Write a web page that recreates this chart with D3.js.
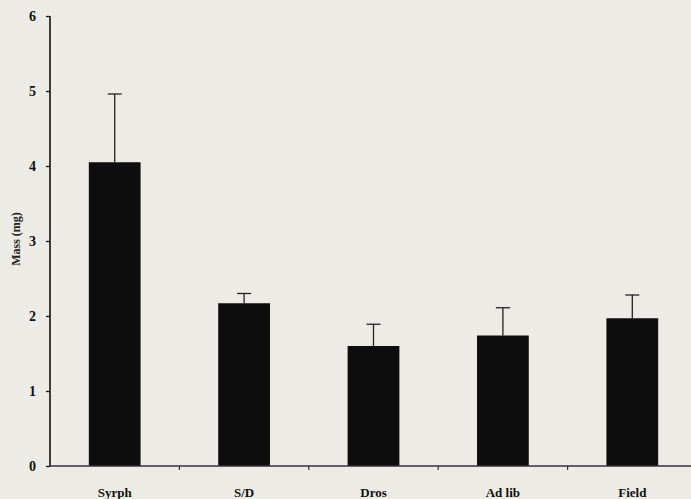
<!DOCTYPE html>
<html><head><meta charset="utf-8">
<script src="https://cdn.jsdelivr.net/npm/d3@7"></script>
<style>html,body{margin:0;padding:0;background:#ecebe5;}svg{display:block;}</style>
</head><body>
<script>
const categories = ["Syrph", "S/D", "Dros", "Ad lib", "Field"];
const means = [4.05, 2.17, 1.60, 1.74, 1.97];
const errors = [0.91, 0.13, 0.29, 0.37, 0.31];
const yTicks = [0, 1, 2, 3, 4, 5, 6];

const W = 691, H = 499;
const svg = d3.select("body").append("svg").attr("width", W).attr("height", H);
svg.append("rect").attr("width", W).attr("height", H).attr("fill", "#ecebe5");

const x = d3.scaleBand().domain(categories).range([50, 697]).paddingInner(0.6).paddingOuter(0.3);
const y = d3.scaleLinear().domain([0, 6]).range([466, 16]);
const font = "'Liberation Serif','Times New Roman',serif";

// bars
svg.selectAll("rect.bar").data(categories).enter().append("rect")
  .attr("class", "bar")
  .attr("x", d => x(d))
  .attr("width", x.bandwidth())
  .attr("y", (d, i) => y(means[i]))
  .attr("height", (d, i) => y(0) - y(means[i]))
  .attr("fill", "#0d0d0d");

// error bars
const cap = 14;
const eb = svg.append("g").attr("stroke", "#222").attr("stroke-width", 1.3);
categories.forEach((c, i) => {
  const cx = x(c) + x.bandwidth() / 2;
  eb.append("line").attr("x1", cx).attr("x2", cx).attr("y1", y(means[i])).attr("y2", y(means[i] + errors[i]));
  eb.append("line").attr("x1", cx - cap / 2).attr("x2", cx + cap / 2).attr("y1", y(means[i] + errors[i])).attr("y2", y(means[i] + errors[i]));
});

// y axis
const yAxis = d3.axisLeft(y).tickValues(yTicks).tickSize(4).tickFormat(d3.format("d"));
const ya = svg.append("g").attr("transform", "translate(50,0)").call(yAxis);
ya.select(".domain").attr("stroke", "#111").attr("stroke-width", 1.6).attr("d", "M0," + y(6) + "V" + y(0));
ya.selectAll(".tick line").attr("stroke", "#111").attr("stroke-width", 1.3);
ya.selectAll(".tick text").attr("x", -14).attr("font-family", font).attr("font-weight", "bold").attr("font-size", 14).attr("fill", "#111");

// x axis with ticks at band boundaries
const step = x.step();
const bounds = categories.slice(0, -1).map(c => x(c) + x.bandwidth() + step * x.paddingInner() / 2);
const xa = svg.append("g").attr("transform", "translate(0," + y(0) + ")");
xa.append("line").attr("x1", 50).attr("x2", W).attr("y1", 0).attr("y2", 0).attr("stroke", "#333").attr("stroke-width", 1.3);
xa.selectAll("line.tk").data(bounds).enter().append("line").attr("class", "tk")
  .attr("x1", d => d).attr("x2", d => d).attr("y1", 0).attr("y2", 4).attr("stroke", "#333").attr("stroke-width", 1.2);
xa.selectAll("text").data(categories).enter().append("text")
  .attr("x", d => x(d) + x.bandwidth() / 2).attr("y", 31)
  .attr("text-anchor", "middle").attr("font-family", font).attr("font-weight", "bold").attr("font-size", 13).attr("fill", "#111")
  .text(d => d);

// y label
svg.append("text").attr("transform", "translate(20,239) rotate(-90)")
  .attr("text-anchor", "middle").attr("font-family", font).attr("font-weight", "bold").attr("font-size", 12).attr("fill", "#222")
  .text("Mass (mg)");
</script>
</body></html>
